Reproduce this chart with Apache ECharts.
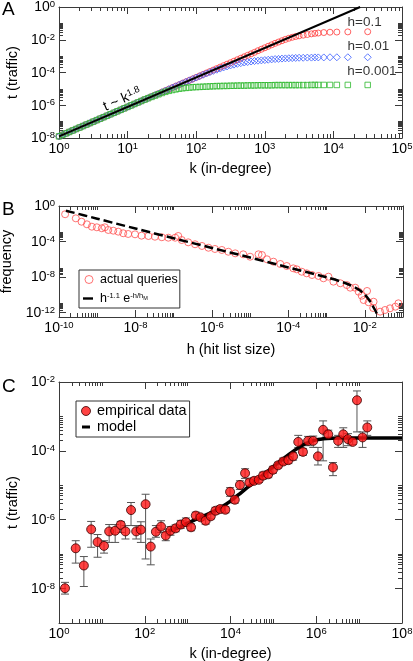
<!DOCTYPE html>
<html><head><meta charset="utf-8">
<script src="https://cdn.jsdelivr.net/npm/echarts@6/dist/echarts.min.js"></script>
<style>html,body{margin:0;padding:0;background:#fff}#c{width:413px;height:661px}</style>
</head><body><div id="c"></div>
<script>
// ===== DATA (all values are log10 of the plotted quantity) =====
// Panel A: traffic t vs in-degree k for three hit-list sizes h
const kA = [0,0.05,0.1,0.15,0.2,0.25,0.3,0.35,0.4,0.45,0.5,0.55,0.6,0.65,0.7,0.75,0.8,0.85,0.9,0.95,
  1,1.05,1.1,1.15,1.2,1.25,1.3,1.35,1.4,1.45,1.5,1.55,1.6,1.65,1.7,1.75,1.8,1.85,1.9,1.95,
  2,2.05,2.1,2.15,2.2,2.25,2.3,2.35,2.4,2.45,2.5,2.55,2.6,2.65,2.7,2.75,2.8,2.85,2.9,2.95,
  3,3.05,3.1,3.15,3.2,3.25,3.3,3.35,3.4,3.45,3.5,
  3.56,3.62,3.68,3.73,3.78,3.86,3.95,4.05,4.21,4.5];
const tRed = [-7.90,-7.81,-7.72,-7.63,-7.54,-7.45,-7.36,-7.27,-7.18,-7.09,-7.00,-6.91,-6.82,-6.73,-6.64,-6.55,-6.46,-6.37,-6.28,-6.19,
  -6.10,-6.01,-5.92,-5.83,-5.74,-5.65,-5.56,-5.47,-5.38,-5.29,-5.20,-5.11,-5.02,-4.93,-4.84,-4.75,-4.66,-4.57,-4.48,-4.39,
  -4.30,-4.21,-4.12,-4.03,-3.94,-3.85,-3.76,-3.67,-3.58,-3.49,-3.40,-3.31,-3.22,-3.13,-3.04,-2.95,-2.86,-2.77,-2.67,-2.58,
  -2.49,-2.40,-2.31,-2.22,-2.14,-2.06,-1.98,-1.91,-1.85,-1.80,-1.76,
  -1.72,-1.68,-1.64,-1.61,-1.59,-1.56,-1.54,-1.53,-1.52,-1.51];
const tBlue = [-7.90,-7.81,-7.72,-7.63,-7.54,-7.45,-7.36,-7.27,-7.18,-7.09,-7.00,-6.91,-6.82,-6.73,-6.64,-6.55,-6.46,-6.37,-6.28,-6.19,
  -6.10,-6.01,-5.92,-5.83,-5.74,-5.65,-5.56,-5.47,-5.38,-5.29,-5.20,-5.11,-5.02,-4.93,-4.84,-4.75,-4.66,-4.57,-4.48,-4.40,
  -4.31,-4.23,-4.14,-4.06,-3.98,-3.90,-3.83,-3.76,-3.69,-3.63,-3.57,-3.52,-3.47,-3.43,-3.39,-3.36,-3.33,-3.30,-3.28,-3.26,
  -3.24,-3.22,-3.20,-3.18,-3.17,-3.15,-3.14,-3.13,-3.12,-3.11,-3.10,
  -3.10,-3.09,-3.09,-3.08,-3.08,-3.08,-3.07,-3.07,-3.07,-3.07];
const tGreen = [-7.90,-7.81,-7.72,-7.63,-7.54,-7.45,-7.36,-7.27,-7.18,-7.09,-7.00,-6.91,-6.82,-6.73,-6.64,-6.55,-6.46,-6.37,-6.28,-6.19,
  -6.10,-6.01,-5.92,-5.83,-5.74,-5.65,-5.57,-5.49,-5.41,-5.33,-5.25,-5.18,-5.12,-5.07,-5.03,-4.99,-4.96,-4.94,-4.92,-4.90,
  -4.89,-4.88,-4.87,-4.86,-4.85,-4.84,-4.83,-4.83,-4.82,-4.82,-4.81,-4.81,-4.80,-4.80,-4.80,-4.79,-4.79,-4.79,-4.78,-4.78,
  -4.78,-4.78,-4.78,-4.77,-4.77,-4.77,-4.77,-4.77,-4.77,-4.77,-4.77,
  -4.77,-4.77,-4.76,-4.76,-4.76,-4.76,-4.76,-4.76,-4.76,-4.76];
const hLabelsA = ['h=0.1', 'h=0.01', 'h=0.001'];
const powerLawK = [0, 4.39];      // t ~ k^1.8 guide line
const powerLawT = [-7.90, 0];

// Panel B: frequency vs hit list size h
const hB = [-9.84,-9.56,-9.41,-9.27,-9.14,-9.01,-8.88,-8.80,-8.71,-8.58,-8.45,-8.32,-8.19,-8.01,-7.84,-7.66,-7.49,-7.31,-7.14,-6.96,
  -6.88,-6.79,-6.62,-6.44,-6.26,-6.09,-5.92,-5.74,-5.57,-5.39,-5.18,-5.00,-4.78,-4.69,-4.56,-4.39,-4.21,-4.04,-3.87,-3.78,
  -3.65,-3.52,-3.38,-3.21,-3.08,-2.95,-2.82,-2.64,-2.47,-2.38,-2.25,-2.16,-2.08,-1.94,-2.03,-1.90,-1.77,-1.78,-1.60,-1.47,
  -1.34,-1.20,-1.12];
const fB = [-0.93,-1.39,-1.77,-2.06,-2.33,-2.40,-2.51,-2.40,-2.70,-2.78,-2.89,-3.07,-3.15,-3.19,-3.34,-3.38,-3.46,-3.52,-3.57,-3.57,
  -3.38,-3.83,-4.09,-4.31,-4.50,-4.70,-4.84,-4.95,-5.15,-5.33,-5.44,-5.71,-5.44,-5.52,-6.00,-6.27,-6.53,-6.76,-7.02,-7.13,
  -7.40,-7.58,-7.77,-7.88,-8.14,-7.96,-8.52,-8.70,-8.90,-9.20,-9.20,-9.65,-10.10,-9.57,-10.59,-10.84,-10.78,-11.49,-11.90,-11.71,
  -11.52,-11.34,-10.96];
const fitH = [-9.82,-9,-8,-7,-6,-5,-4,-3,-2.5,-2.2,-2.04,-1.9,-1.8,-1.72,-1.65];
const fitF = [-0.53,-1.43,-2.54,-3.64,-4.72,-5.80,-6.92,-8.03,-8.70,-9.30,-9.80,-10.50,-11.20,-11.80,-12.50];

// Panel C: empirical traffic vs in-degree with error bars, and model
const kC = [0.14,0.39,0.58,0.75,0.90,1.05,1.17,1.31,1.44,1.55,1.68,1.80,1.91,2.02,2.14,2.26,2.38,2.49,2.60,2.72,
  2.84,2.96,3.08,3.19,3.30,3.42,3.54,3.65,3.76,3.88,3.99,4.10,4.22,4.34,4.44,4.55,4.66,4.76,4.88,4.99,
  5.11,5.23,5.35,5.46,5.58,5.69,5.81,5.93,6.04,6.16,6.28,6.39,6.51,6.63,6.74,6.85,6.95,7.08,7.19];
const tC = [-7.99,-6.83,-7.33,-6.28,-6.65,-6.76,-6.34,-6.32,-6.15,-6.34,-5.72,-6.34,-6.29,-5.55,-6.78,-6.35,-6.20,-6.46,-6.32,-6.25,
  -6.14,-6.07,-6.22,-5.88,-5.93,-6.03,-5.90,-5.74,-5.69,-5.71,-5.19,-5.42,-4.99,-4.65,-4.92,-4.87,-4.84,-4.72,-4.68,-4.55,
  -4.42,-4.31,-4.27,-4.16,-3.74,-4.03,-3.71,-3.71,-4.16,-3.39,-3.52,-4.48,-3.71,-3.52,-3.66,-3.74,-2.53,-3.61,-3.32];
const tCHi = [-7.82,-6.61,-7.07,-6.05,-6.43,-6.61,-6.14,-6.14,-6.05,-6.17,-5.50,-6.17,-6.06,-5.26,-6.56,-6.17,-6.03,-6.27,-6.20,-6.15,
  -6.02,-5.95,-6.12,-5.78,-5.85,-5.93,-5.82,-5.64,-5.60,-5.62,-5.07,-5.33,-4.87,-4.52,-4.84,-4.78,-4.76,-4.62,-4.58,-4.45,
  -4.33,-4.21,-4.16,-4.05,-3.55,-3.93,-3.58,-3.57,-3.90,-3.13,-3.40,-4.34,-3.55,-3.33,-3.50,-3.66,-2.26,-3.45,-3.13];
const tCLo = [-8.16,-7.26,-7.94,-6.80,-7.09,-6.97,-6.66,-6.66,-6.37,-6.56,-6.17,-6.56,-6.66,-7.14,-7.31,-6.51,-6.37,-6.61,-6.45,-6.35,
  -6.25,-6.18,-6.32,-5.98,-6.02,-6.13,-5.98,-5.84,-5.78,-5.80,-5.32,-5.52,-5.12,-4.80,-5.00,-4.95,-4.92,-4.82,-4.78,-4.65,
  -4.50,-4.40,-4.37,-4.27,-3.90,-4.13,-3.85,-3.90,-4.41,-4.29,-3.65,-4.72,-3.90,-3.90,-3.85,-3.82,-3.45,-3.90,-3.55];
const modelK = [2.55,2.8,3.0,3.25,3.5,3.75,4.0,4.25,4.5,4.75,5.0,5.25,5.5,5.75,6.0,6.25,6.5,8.0];
const modelT = [-6.33,-6.22,-6.10,-5.96,-5.82,-5.66,-5.46,-5.21,-4.96,-4.71,-4.46,-4.21,-3.98,-3.79,-3.68,-3.64,-3.63,-3.63];

// Major tick exponents (labels are 10^n)
const xTicksA = [0,1,2,3,4,5];
const yTicksA = [-8,-6,-4,-2,0];
const xTicksB = [-10,-8,-6,-4,-2];
const yTicksB = [-12,-8,-4,0];
const xTicksC = [0,2,4,6,8];
const yTicksC = [-8,-6,-4,-2];

// ===== STYLE / LAYOUT =====
const F = "'Liberation Sans', Arial, Helvetica, sans-serif";
const AXC = '#3a3a3a';
const RED_A = '#ff3a3a', BLUE_A = '#3a5cff', GREEN_A = '#2cb82c';
const RED_B = '#ff5050', RED_C = '#ff1414';
const FIT_NAME = 'h^-1.1 e^-h/hM';

const RICH = {
  b: {fontFamily: F, fontSize: 14, color: '#000', lineHeight: 15, padding: [5, 0, 0, 0], verticalAlign: 'bottom'},
  s: {fontFamily: F, fontSize: 9.5, color: '#000', lineHeight: 10, verticalAlign: 'top'}
};
function expLabel(v) {
  const e = Math.round(v);
  return '{b|10}{s|' + (e < 0 ? '-' + (-e) : String(e)) + '}';
}
function minorTicks(majors, lo, hi) {
  const out = [];
  majors.forEach(function (e) {
    for (let m = 2; m <= 10; m++) {
      const v = e + Math.log10(m);
      if (v > lo + 1e-9 && v < hi - 1e-9 && majors.indexOf(Math.round(v * 1e6) / 1e6) < 0) out.push(v);
    }
  });
  return out;
}
function axisSet(dim, g, min, max, majors, name, nameGap) {
  const minors = minorTicks(majors, min, max);
  const posA = dim === 'x' ? 'bottom' : 'left';
  const posB = dim === 'x' ? 'top' : 'right';
  const line = {show: true, onZero: false, lineStyle: {color: AXC, width: 1}};
  const noLine = {show: false, onZero: false};
  const tick = function (vals, len) {
    return {show: true, inside: true, length: len, customValues: vals, lineStyle: {color: AXC, width: 1}};
  };
  const base = {gridIndex: g, type: 'value', min: min, max: max, splitLine: {show: false}, silent: true};
  return [
    Object.assign({}, base, {position: posA, axisLine: line, axisTick: tick(majors, 7),
      axisLabel: {show: true, customValues: majors, formatter: expLabel, rich: RICH, margin: dim === 'x' ? 3 : 4},
      name: name, nameLocation: 'middle', nameGap: nameGap,
      nameTextStyle: {fontFamily: F, fontSize: 14.5, color: '#000'}}),
    Object.assign({}, base, {position: posA, axisLine: noLine, axisTick: tick(minors, 4), axisLabel: {show: false}}),
    Object.assign({}, base, {position: posB, axisLine: line, axisTick: tick(majors, 7), axisLabel: {show: false}}),
    Object.assign({}, base, {position: posB, axisLine: noLine, axisTick: tick(minors, 4), axisLabel: {show: false}})
  ];
}

const xAxes = [].concat(
  axisSet('x', 0, 0, 5, xTicksA, 'k (in-degree)', 23),
  axisSet('x', 1, -10, -1, xTicksB, 'h (hit list size)', 25),
  axisSet('x', 2, 0, 8, xTicksC, 'k (in-degree)', 23));
const yAxes = [].concat(
  axisSet('y', 0, -8, 0, yTicksA, 't (traffic)', 32),
  axisSet('y', 1, -12.5, 0, yTicksB, 'frequency', 32),
  axisSet('y', 2, -9, -2, yTicksC, 't (traffic)', 32));

function pairs(xs, ys) { return xs.map(function (x, i) { return [x, ys[i]]; }); }
function withEndLabel(data, text, pos) {
  const d = data.slice();
  const last = d[d.length - 1];
  d[d.length - 1] = {value: last, label: {show: true, formatter: text, position: pos, align: 'left',
    verticalAlign: 'middle', fontFamily: F, fontSize: 13.5, color: '#000'}};
  return d;
}

const series = [
  // ---- Panel A ----
  {type: 'scatter', name: 'h=0.1', xAxisIndex: 0, yAxisIndex: 0, z: 2,
   data: withEndLabel(pairs(kA, tRed), hLabelsA[0], [-16.7, -5.7]),
   symbol: 'circle', symbolSize: 6, itemStyle: {color: 'rgba(0,0,0,0)', borderColor: RED_A, borderWidth: 1}},
  {type: 'scatter', name: 'h=0.01', xAxisIndex: 0, yAxisIndex: 0, z: 3,
   data: withEndLabel(pairs(kA, tBlue), hLabelsA[1], [-16.2, -6.8]),
   symbol: 'diamond', symbolSize: 7, itemStyle: {color: 'rgba(0,0,0,0)', borderColor: BLUE_A, borderWidth: 1}},
  {type: 'scatter', name: 'h=0.001', xAxisIndex: 0, yAxisIndex: 0, z: 4,
   data: withEndLabel(pairs(kA, tGreen), hLabelsA[2], [-17.2, -10.5]),
   symbol: 'rect', symbolSize: 5.5, itemStyle: {color: 'rgba(0,0,0,0)', borderColor: GREEN_A, borderWidth: 1}},
  {type: 'line', name: 't ~ k^1.8', xAxisIndex: 0, yAxisIndex: 0, z: 5,
   data: pairs(powerLawK, powerLawT), showSymbol: false, symbol: 'none',
   lineStyle: {color: '#000', width: 2}},
  // ---- Panel B ----
  {type: 'scatter', name: 'actual queries', xAxisIndex: 4, yAxisIndex: 4, z: 2,
   data: pairs(hB, fB), symbol: 'circle', symbolSize: 7,
   itemStyle: {color: 'rgba(0,0,0,0)', borderColor: RED_B, borderWidth: 1}},
  {type: 'line', name: FIT_NAME, xAxisIndex: 4, yAxisIndex: 4, z: 3, color: '#000',
   data: pairs(fitH, fitF), showSymbol: false, symbol: 'none', smooth: 0.3,
   lineStyle: {color: '#000', width: 2.5, type: [9, 4]}},
  // ---- Panel C ----
  {type: 'custom', name: 'error bars', xAxisIndex: 8, yAxisIndex: 8, z: 2,
   data: kC.map(function (k, i) { return [k, tCLo[i], tCHi[i]]; }),
   renderItem: function (params, api) {
     const lo = api.coord([api.value(0), api.value(1)]);
     const hi = api.coord([api.value(0), api.value(2)]);
     const w = 4, st = {stroke: '#555', lineWidth: 1};
     return {type: 'group', children: [
       {type: 'line', shape: {x1: lo[0], y1: lo[1], x2: hi[0], y2: hi[1]}, style: st},
       {type: 'line', shape: {x1: lo[0] - w, y1: lo[1], x2: lo[0] + w, y2: lo[1]}, style: st},
       {type: 'line', shape: {x1: hi[0] - w, y1: hi[1], x2: hi[0] + w, y2: hi[1]}, style: st}
     ]};
   }},
  {type: 'line', name: 'model', xAxisIndex: 8, yAxisIndex: 8, z: 3, color: '#000',
   data: pairs(modelK, modelT), showSymbol: false, symbol: 'none', smooth: 0.25,
   lineStyle: {color: '#000', width: 3.5}},
  {type: 'scatter', name: 'empirical data', xAxisIndex: 8, yAxisIndex: 8, z: 4,
   data: pairs(kC, tC), symbol: 'circle', symbolSize: 9,
   itemStyle: {color: RED_C, borderColor: '#3a0000', borderWidth: 1}}
];

const option = {
  animation: false,
  backgroundColor: '#fff',
  grid: [
    {left: 59, top: 7, width: 343, height: 131, containLabel: false, outerBoundsMode: 'none'},
    {left: 59, top: 206, width: 344, height: 111, containLabel: false, outerBoundsMode: 'none'},
    {left: 59, top: 382, width: 343, height: 241, containLabel: false, outerBoundsMode: 'none'}
  ],
  xAxis: xAxes,
  yAxis: yAxes,
  legend: [
    {left: 79, top: 270, orient: 'vertical', itemWidth: 12, itemHeight: 8, itemGap: 3, padding: [3, 2, 3, 4],
     borderColor: '#333', borderWidth: 1, borderRadius: 0, backgroundColor: '#fff', selectedMode: false,
     textStyle: {fontFamily: F, fontSize: 12.5, color: '#000',
       rich: {n: {fontFamily: F, fontSize: 12.5, color: '#000', lineHeight: 13, padding: [3, 0, 0, 0], verticalAlign: 'bottom'},
              s: {fontFamily: F, fontSize: 7.5, color: '#000', lineHeight: 8, verticalAlign: 'top'},
              m: {fontFamily: F, fontSize: 5.5, color: '#000', lineHeight: 6, padding: [3, 0, 0, 0], verticalAlign: 'top'}}},
     formatter: function (n) { return n === FIT_NAME ? '{n|h}{s|-1.1}{n| e}{s|-h/h}{m|M}' : n; },
     data: [
       {name: 'actual queries', icon: 'circle', itemStyle: {color: 'rgba(0,0,0,0)', borderColor: RED_B, borderWidth: 1}},
       {name: FIT_NAME, icon: 'path://M0,0M12,8M0,2.8H10V5.2H0Z', itemStyle: {color: '#000', borderWidth: 0}}
     ]},
    {left: 76, top: 401, orient: 'vertical', itemWidth: 12, itemHeight: 9, itemGap: 2, padding: [3, 3, 3, 4],
     borderColor: '#333', borderWidth: 1, borderRadius: 0, backgroundColor: '#fff', selectedMode: false,
     textStyle: {fontFamily: F, fontSize: 14.4, color: '#000'},
     data: [
       {name: 'empirical data', icon: 'circle', itemStyle: {color: RED_C, borderColor: '#3a0000', borderWidth: 1}},
       {name: 'model', icon: 'path://M0,0M12,9M2,3H10V6H2Z', itemStyle: {color: '#000', borderWidth: 0}}
     ]}
  ],
  graphic: [
    {type: 'text', x: 2, y: 10, z: 100, style: {text: 'A', fontFamily: F, fontSize: 19, fill: '#000', verticalAlign: 'middle'}},
    {type: 'text', x: 2, y: 210, z: 100, style: {text: 'B', fontFamily: F, fontSize: 19, fill: '#000', verticalAlign: 'middle'}},
    {type: 'text', x: 2, y: 386.5, z: 100, style: {text: 'C', fontFamily: F, fontSize: 19, fill: '#000', verticalAlign: 'middle'}},
    {type: 'text', x: 122, y: 99, rotation: 0.412, z: 100,
     style: {text: '{a|t ~ k}{b|1.8}', align: 'center', verticalAlign: 'middle',
       rich: {a: {fontFamily: F, fontSize: 14, fill: '#000', lineHeight: 15, padding: [4, 0, 0, 0], verticalAlign: 'bottom'},
              b: {fontFamily: F, fontSize: 9.5, fill: '#000', lineHeight: 10, verticalAlign: 'top'}}}}
  ],
  series: series
};

const chart = echarts.init(document.getElementById('c'), null, {renderer: 'canvas'});
chart.setOption(option);
</script>
</body></html>
